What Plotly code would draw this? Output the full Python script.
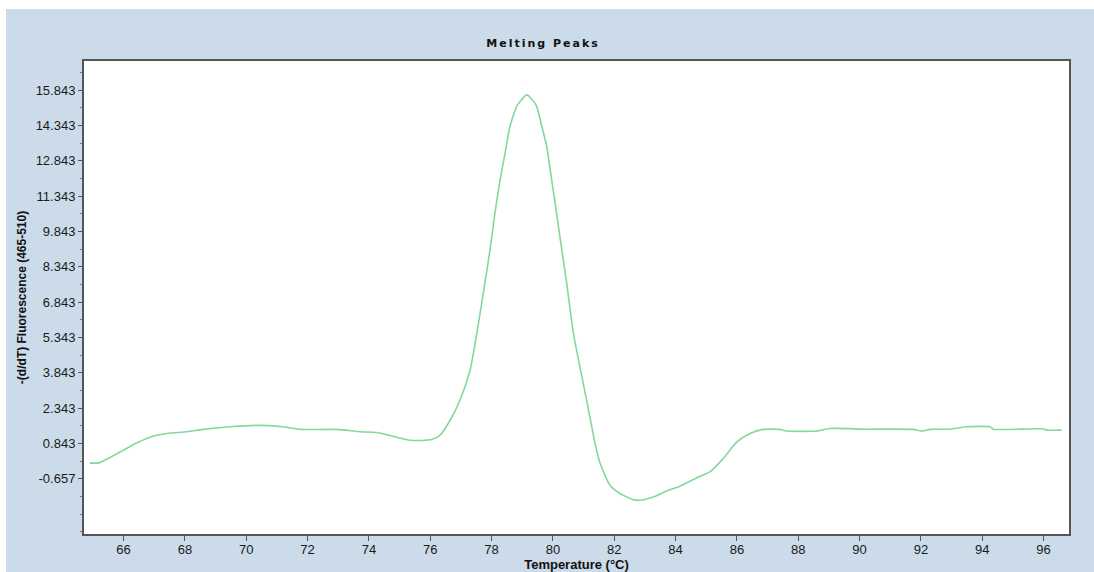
import plotly.graph_objects as go

# ---- data ----
temperature = [64.9, 65.2, 65.56, 66.0, 66.44, 66.96, 67.42, 68.07, 68.6, 69.47,
               70.35, 71.2, 71.75, 72.95, 73.71, 74.26, 74.69, 75.34, 75.7, 76.05,
               76.32, 76.65, 76.97, 77.3, 77.52, 77.73, 77.95, 78.11, 78.28, 78.44,
               78.6, 78.82, 78.93, 79.15, 79.45, 79.64, 79.8, 79.96, 80.12, 80.29,
               80.45, 80.67, 80.88, 81.1, 81.4, 81.54, 81.86, 82.19, 82.62, 82.84,
               83.27, 83.71, 84.14, 84.8, 85.12, 85.56, 86.0, 86.43, 86.86, 87.4,
               87.62, 88.6, 89.04, 90.23, 91.75, 92.02, 92.3, 92.95, 93.49, 94.25,
               94.36, 96.0, 96.1, 96.59]
fluorescence = [0.01, 0.02, 0.25, 0.56, 0.87, 1.15, 1.27, 1.34, 1.44, 1.55,
                1.61, 1.55, 1.44, 1.44, 1.34, 1.31, 1.18, 0.98, 0.97, 1.01,
                1.20, 1.83, 2.68, 3.96, 5.52, 7.22, 9.06, 10.62, 12.03, 13.17,
                14.30, 15.15, 15.36, 15.64, 15.22, 14.30, 13.45, 12.03, 10.62, 9.06,
                7.64, 5.52, 4.10, 2.68, 0.70, 0.00, -0.93, -1.28, -1.54, -1.57,
                -1.43, -1.17, -0.97, -0.55, -0.36, 0.21, 0.91, 1.27, 1.44, 1.44,
                1.37, 1.37, 1.48, 1.45, 1.44, 1.37, 1.44, 1.45, 1.55, 1.55,
                1.45, 1.46, 1.41, 1.41]

y_tick_vals = [15.843, 14.343, 12.843, 11.343, 9.843, 8.343, 6.843, 5.343,
               3.843, 2.343, 0.843, -0.657]
y_tick_text = ["15.843", "14.343", "12.843", "11.343", "9.843", "8.343", "6.843",
               "5.343", "3.843", "2.343", "0.843", "-0.657"]
x_tick_vals = [66, 68, 70, 72, 74, 76, 78, 80, 82, 84, 86, 88, 90, 92, 94, 96]

W, H = 1094, 572
L, R, T, B = 84, 1069, 61, 534  # plot area in pixels
BLUE = "#cbdbe9"


def px_x(p):
    return (p - L) / (R - L)


def px_y(p):
    return (B - p) / (B - T)


fig = go.Figure()
fig.add_trace(go.Scatter(
    x=temperature, y=fluorescence, mode="lines",
    line=dict(color="#84d89c", width=1.6, shape="spline", smoothing=0.6),
    showlegend=False, hoverinfo="x+y",
))

axis_font = dict(family="Arial, Liberation Sans, sans-serif", size=13, color="#1a1a1a")

fig.update_layout(
    width=W, height=H,
    margin=dict(l=L, r=W - R, t=T, b=H - B, autoexpand=False),
    paper_bgcolor=BLUE,
    plot_bgcolor="white",
    title=dict(
        text='<span style="letter-spacing:2px"><b>Melting Peaks</b></span>',
        font=dict(family="DejaVu Sans, Verdana, sans-serif", size=11, color="#111"),
        x=px_x(543), xref="paper", xanchor="center",
        y=1 - 43 / H, yref="container", yanchor="middle",
    ),
    xaxis=dict(
        range=[64.71, 96.83], automargin=False,
        tickmode="array", tickvals=x_tick_vals,
        ticks="outside", ticklen=5, tickcolor="#555", tickwidth=1,
        tickfont=axis_font, ticklabelstandoff=-3,
        showgrid=False, zeroline=False,
        showline=True, linecolor="#555", linewidth=2, mirror=True,
        title=dict(text="<b>Temperature (°C)</b>",
                   font=dict(family="Arial, Liberation Sans, sans-serif", size=13, color="#111"),
                   standoff=0),
    ),
    yaxis=dict(
        range=[-3.0, 17.08], automargin=False,
        tickmode="array", tickvals=y_tick_vals, ticktext=y_tick_text,
        ticks="outside", ticklen=4, tickcolor="#555", tickwidth=1,
        tickfont=axis_font,
        minor=dict(tick0=0.843, dtick=0.75, ticks="outside", ticklen=2,
                   tickcolor="#777", showgrid=False),
        showgrid=False, zeroline=False,
        showline=True, linecolor="#555", linewidth=2, mirror=True,
        title=dict(text="<b>-(d/dT) Fluorescence (465-510)</b>",
                   font=dict(family="Arial, Liberation Sans, sans-serif", size=12, color="#111"),
                   standoff=6),
    ),
    shapes=[
        # white outer strips at the top and left edge of the window
        dict(type="rect", xref="paper", yref="paper", layer="below",
             x0=px_x(-5), x1=px_x(W + 5), y0=px_y(9), y1=px_y(-5),
             fillcolor="white", line=dict(width=0)),
        dict(type="rect", xref="paper", yref="paper", layer="below",
             x0=px_x(-5), x1=px_x(6), y0=px_y(H + 5), y1=px_y(-5),
             fillcolor="white", line=dict(width=0)),
    ],
)

fig.write_html("out.html")
